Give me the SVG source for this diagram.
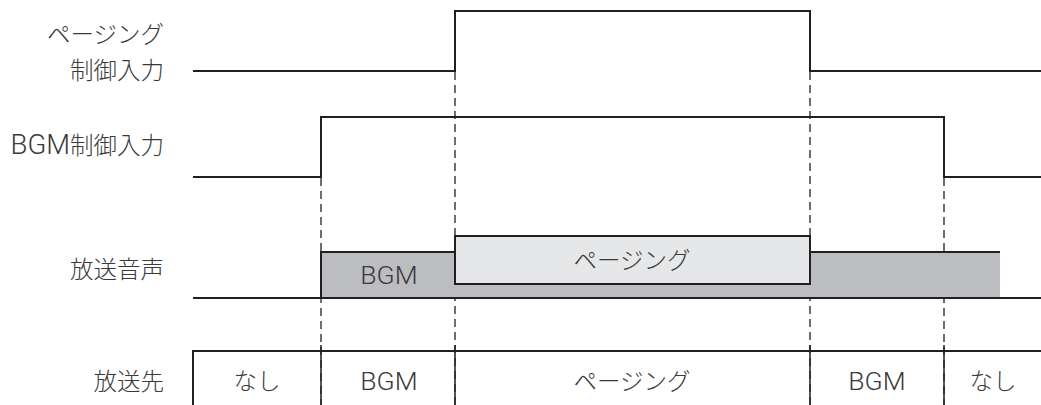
<svg xmlns="http://www.w3.org/2000/svg" width="1041" height="405" viewBox="0 0 1041 405">
<style>
.lbl{font-family:"Noto Sans CJK JP","Liberation Sans",sans-serif;font-size:23.5px;font-weight:300;fill:#3a3a3a;}
.lat{font-family:Roboto,"Liberation Sans",sans-serif;font-size:26.5px;font-weight:300;fill:#3a3a3a;}
.sig{fill:none;stroke:#231f20;stroke-width:2;}
.tbl{fill:none;stroke:#231f20;stroke-width:1.5;}
.dash{fill:none;stroke:#231f20;stroke-width:1.3;stroke-dasharray:8 5;}
</style>
<rect width="1041" height="405" fill="#fff"/>
<g id="labels">
<text class="lbl" x="164" y="43" text-anchor="end">ページング</text>
<text class="lbl" x="164" y="79" text-anchor="end">制御入力</text>
<text class="lbl" x="164" y="154" text-anchor="end"><tspan class="lat" style="font-size:27.5px">BGM</tspan>制御入力</text>
<text class="lbl" x="164" y="278" text-anchor="end">放送音声</text>
<text class="lbl" x="164" y="390" text-anchor="end">放送先</text>
</g>
<g id="connectors">
<line class="dash" x1="321" y1="178" x2="321" y2="405"/>
<line class="dash" x1="455" y1="72" x2="455" y2="405"/>
<line class="dash" x1="810" y1="72" x2="810" y2="405"/>
<line class="dash" x1="944" y1="178" x2="944" y2="405"/>
</g>
<g id="paging-signal">
<polyline class="sig" points="193,71 455,71 455,11 810,11 810,71 1041,71"/>
</g>
<g id="bgm-signal">
<polyline class="sig" points="193,177 321,177 321,117 944,117 944,177 1041,177"/>
</g>
<g id="audio">
<rect x="321" y="252" width="679" height="46" fill="#bcbdc0"/>
<polyline class="sig" points="321,298 321,252 455,252"/>
<line class="sig" x1="810" y1="252" x2="1000" y2="252"/>
<line class="sig" x1="193" y1="298" x2="1041" y2="298"/>
<text class="lat" x="389" y="284" text-anchor="middle">BGM</text>
<g id="paging-box">
<rect x="455" y="236" width="355" height="48" fill="#e6e7e8" stroke="#231f20" stroke-width="2"/>
<text class="lbl" x="632" y="269" text-anchor="middle">ページング</text>
</g>
</g>
<g id="destination">
<polyline class="sig" points="193,405 193,351 1041,351"/>
<line class="tbl" x1="321" y1="345" x2="321" y2="405"/>
<line class="tbl" x1="455" y1="345" x2="455" y2="405"/>
<line class="tbl" x1="810" y1="345" x2="810" y2="405"/>
<line class="tbl" x1="944" y1="345" x2="944" y2="405"/>
<text class="lbl" x="257" y="390" text-anchor="middle">なし</text>
<text class="lat" x="389" y="390" text-anchor="middle">BGM</text>
<text class="lbl" x="632" y="390" text-anchor="middle">ページング</text>
<text class="lat" x="877" y="390" text-anchor="middle">BGM</text>
<text class="lbl" x="993" y="390" text-anchor="middle">なし</text>
</g>
</svg>
